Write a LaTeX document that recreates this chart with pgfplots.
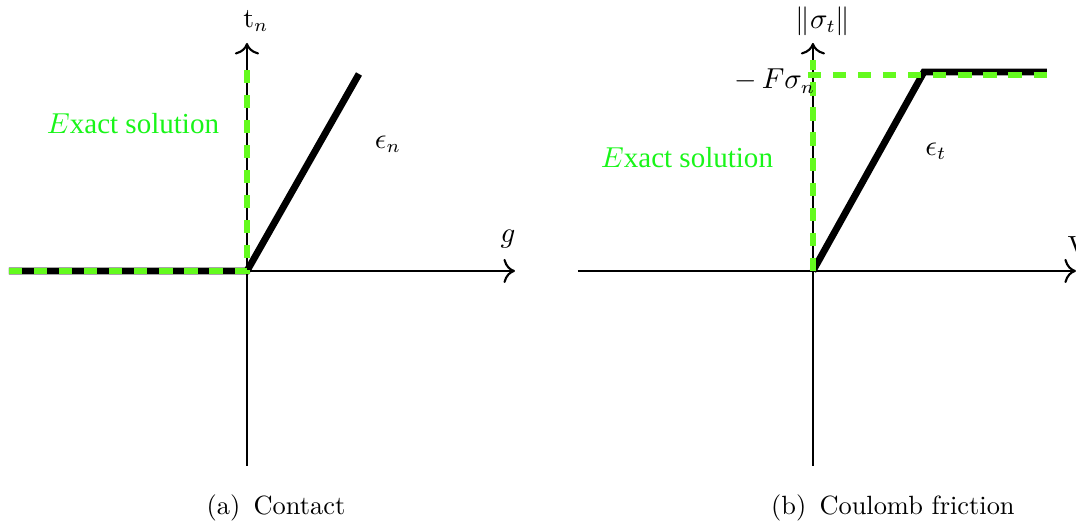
\documentclass[border=0pt]{standalone}
\usepackage{fontspec}
\newfontfamily\tms{Liberation Serif}
\usepackage{pgfplots}
\pgfplotsset{compat=1.18}
\usetikzlibrary{arrows.meta}

\definecolor{dashgreen}{RGB}{100,250,30}
\definecolor{txtgreen}{RGB}{25,245,25}

\tikzset{lbl/.style={font=\fontsize{10.5}{12}\selectfont}}

% 1 px of the reference = 0.379pt
\pgfplotsset{
  sketch/.style={
    x=0.379pt, y=0.379pt,
    axis lines=middle,
    axis line style={line width=0.8pt, -{Computer Modern Rightarrow[scale=1.3]}},
    xtick=\empty, ytick=\empty,
    enlargelimits=false,
    ymin=-195, ymax=228,
    clip=false,
    anchor=origin,
  },
  sol/.style={line width=2.6pt, black, line join=miter},
  exact/.style={line width=2.3pt, dashgreen, dash pattern=on 5pt off 4.5pt},
}

\begin{document}
\begin{tikzpicture}
  \path[use as bounding box] (0,0) rectangle (407.8pt,-199.7pt);

  % (a) contact
  \begin{axis}[sketch, at={(93.6pt,-102.7pt)}, xmin=-238, xmax=268]
    \addplot[sol] coordinates {(-238,0) (0,0) (112,197)};
    \addplot[exact] coordinates {(-238,0) (0,0) (0,209)};
    \node[lbl] at (axis cs:9,250) {$\mathrm{t}_n$};
    \node[lbl] at (axis cs:261,32) {$g$};
    \node[lbl] at (axis cs:141,127) {$\epsilon_n$};
    \node[text=txtgreen, font=\fontsize{11}{13}\selectfont] at (axis cs:-114,147) {$E${\tms xact solution}};
  \end{axis}

  % (b) Coulomb friction
  \begin{axis}[sketch, at={(308.1pt,-102.7pt)}, xmin=-235, xmax=263]
    \addplot[sol] coordinates {(0,0) (111,199) (234,199)};
    \addplot[exact] coordinates {(0,0) (0,211)};
    \addplot[exact] coordinates {(-5,196) (234,196)};
    \node[lbl] at (axis cs:10,250) {$\|\sigma_t\|$};
    \node[lbl] at (axis cs:-38,190) {$-\,F\sigma_n$};
    \node[lbl] at (axis cs:265,25) {$\mathrm{V}$};
    \node[lbl] at (axis cs:123,120) {$\epsilon_t$};
    \node[text=txtgreen, font=\fontsize{11}{13}\selectfont] at (axis cs:-126,113) {$E${\tms xact solution}};
  \end{axis}

  \node at (104.6pt,-192.5pt) {(a)\enspace Contact};
  \node at (338.4pt,-192.5pt) {(b)\enspace Coulomb friction};
\end{tikzpicture}
\end{document}
